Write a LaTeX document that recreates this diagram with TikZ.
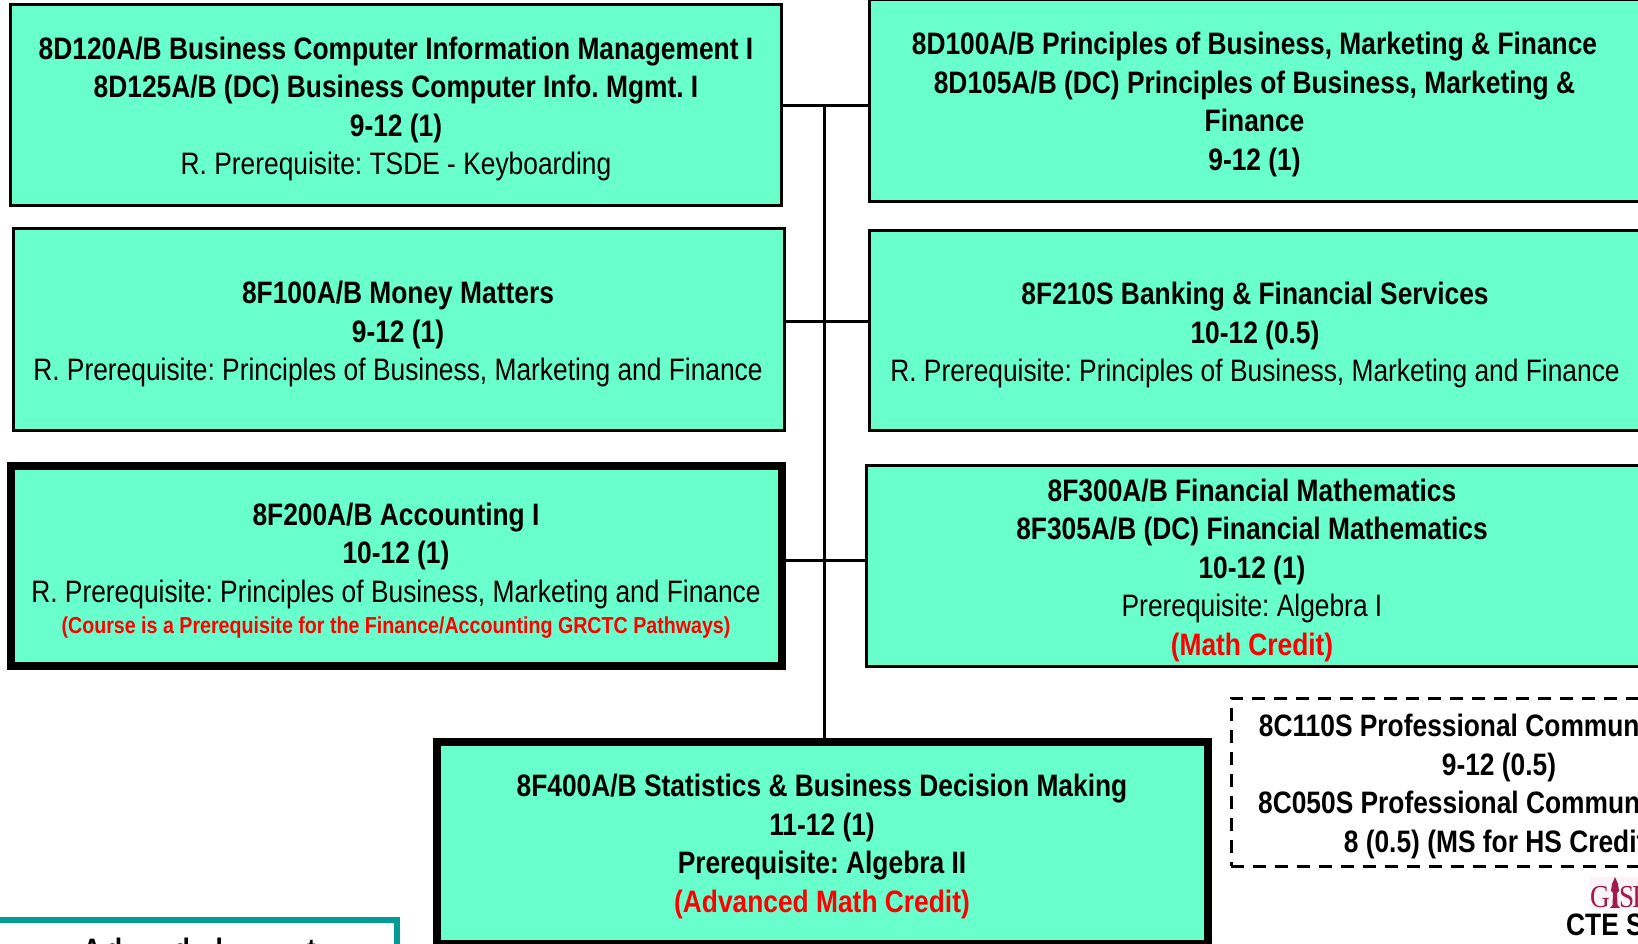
\documentclass[tikz,border=0pt]{standalone}
\usepackage{fontspec}
\setmainfont{Liberation Sans}[FakeStretch=0.85]
\newfontfamily\logofont{Liberation Serif}[FakeStretch=0.85]
\definecolor{boxfill}{HTML}{68FFCC}
\definecolor{tealline}{HTML}{009B96}
\definecolor{redtext}{HTML}{FF0000}
\definecolor{logored}{HTML}{9E1B4B}
\definecolor{logobg}{HTML}{FBF3F5}
\tikzset{
  course/.style={draw=black,fill=boxfill,line width=3pt,inner sep=0pt,rectangle},
  keycourse/.style={course,line width=8pt},
  txt/.style={align=center,inner sep=0pt,font=\fontsize{31}{38.5}\selectfont\frenchspacing},
  link/.style={draw=black,line width=3pt},
  elective/.style={draw=black,line width=3pt,dash pattern=on 13pt off 9pt,rectangle,inner sep=0pt},
  advisor/.style={draw=tealline,line width=6pt,rectangle,inner sep=0pt}
}
\newcommand{\redsmall}[1]{{\fontsize{23.1}{30}\selectfont\bfseries\color{redtext}#1}}
\newcommand{\redbig}[1]{{\bfseries\color{redtext}#1}}
\begin{document}
\begin{tikzpicture}[x=1pt,y=-1pt]
\useasboundingbox (0,0) rectangle (1638,944);
\clip (0,0) rectangle (1638,944);
% boxes
\node[course,minimum width=771pt,minimum height=201pt] (b1) at (396.25,105.5) {};
\node[course,minimum width=771pt,minimum height=201.5pt] (b2) at (399,329.5) {};
\node[keycourse,minimum width=771pt,minimum height=200pt] (b3) at (396,566) {};
\node[course,minimum width=834pt,minimum height=202pt] (b4) at (1286,101) {};
\node[course,minimum width=834pt,minimum height=200.5pt] (b5) at (1286,330.5) {};
\node[course,minimum width=834pt,minimum height=201pt] (b6) at (1283,566) {};
\node[keycourse,minimum width=771pt,minimum height=202.5pt] (b7) at (822.75,842.75) {};
\node[elective,minimum width=560pt,minimum height=168pt] (b8) at (1511,782) {};
\node[advisor,minimum width=420pt,minimum height=100pt] (b9) at (186.5,970) {};
% connectors
\coordinate (j1) at (824,106);
\coordinate (j2) at (824,321);
\coordinate (j3) at (824,560.5);
\draw[link] (j1 -| b1.east) -- (j1 -| b4.west);
\draw[link] (j2 -| b2.east) -- (j2 -| b5.west);
\draw[link] (j3 -| b3.east) -- (j3 -| b6.west);
\draw[link] (j1) -- (j1 |- b7.north);
% texts
\node[txt] (t1) at (396,109) {\textbf{8D120A/B Business Computer Information Management I}\\\textbf{8D125A/B (DC) Business Computer Info. Mgmt. I}\\\textbf{9-12 (1)}\\R. Prerequisite: TSDE - Keyboarding};
\node[txt] (t2) at (398,334) {\textbf{8F100A/B Money Matters}\\\textbf{9-12 (1)}\\R. Prerequisite: Principles of Business, Marketing and Finance};
\node[txt] (t3) at (396,570.5) {\textbf{8F200A/B Accounting I}\\\textbf{10-12 (1)}\\R. Prerequisite: Principles of Business, Marketing and Finance\\[-7.5pt]\redsmall{(Course is a Prerequisite for the Finance/Accounting GRCTC Pathways)}};
\node[txt] (t4) at (1254.5,104.5) {\textbf{8D100A/B Principles of Business, Marketing \& Finance}\\\textbf{8D105A/B (DC) Principles of Business, Marketing \&}\\\textbf{Finance}\\\textbf{9-12 (1)}};
\node[txt] (t5) at (1255,335) {\textbf{8F210S Banking \& Financial Services}\\\textbf{10-12 (0.5)}\\R. Prerequisite: Principles of Business, Marketing and Finance};
\node[txt] (t6) at (1252,570) {\textbf{8F300A/B Financial Mathematics}\\\textbf{8F305A/B (DC) Financial Mathematics}\\\textbf{10-12 (1)}\\Prerequisite: Algebra I\\\redbig{(Math Credit)}};
\node[txt] (t7) at (822,846.5) {\textbf{8F400A/B Statistics \& Business Decision Making}\\\textbf{11-12 (1)}\\\textbf{Prerequisite: Algebra II}\\\redbig{(Advanced Math Credit)}};
\node[txt] (t8) at (1499,786.5) {\textbf{8C110S Professional Communications}\\\textbf{9-12 (0.5)}\\\textbf{8C050S Professional Communications}\\\textbf{8 (0.5) (MS for HS Credit)}};
% cut-off pieces at the picture's edges
\node[txt,anchor=base] (t9) at (515,-7) {\textbf{g}};
\node[anchor=base west,inner sep=0pt,font=\fontsize{31}{36}\selectfont\bfseries] (t10) at (82.5,960) {A\hspace{4.5pt}d\hspace{51.5pt}d\hspace{25.8pt}l\hspace{84pt}t};
% logo
\node[fill=logobg,minimum width=60pt,minimum height=31pt,inner sep=0pt,anchor=north west] (logo) at (1590,877) {};
\node[anchor=base west,inner sep=0pt,text=logored,font=\logofont\fontsize{32}{32}\selectfont] (logoa) at (1590,907) {G};
\path[fill=logored] (1615,877) -- (1618,884) -- (1619,891) -- (1617,893) -- (1617.5,905) -- (1620,908) -- (1610,908) -- (1612.5,905) -- (1613,893) -- (1611,891) -- (1612,884) -- cycle;
\node[anchor=base west,inner sep=0pt,text=logored,font=\logofont\fontsize{32}{32}\selectfont] (logob) at (1619,907) {S\kern-2pt D};
\node[anchor=base west,inner sep=0pt,font=\fontsize{31}{36}\selectfont\bfseries] (cte) at (1566,935) {CTE S};
\end{tikzpicture}
\end{document}
